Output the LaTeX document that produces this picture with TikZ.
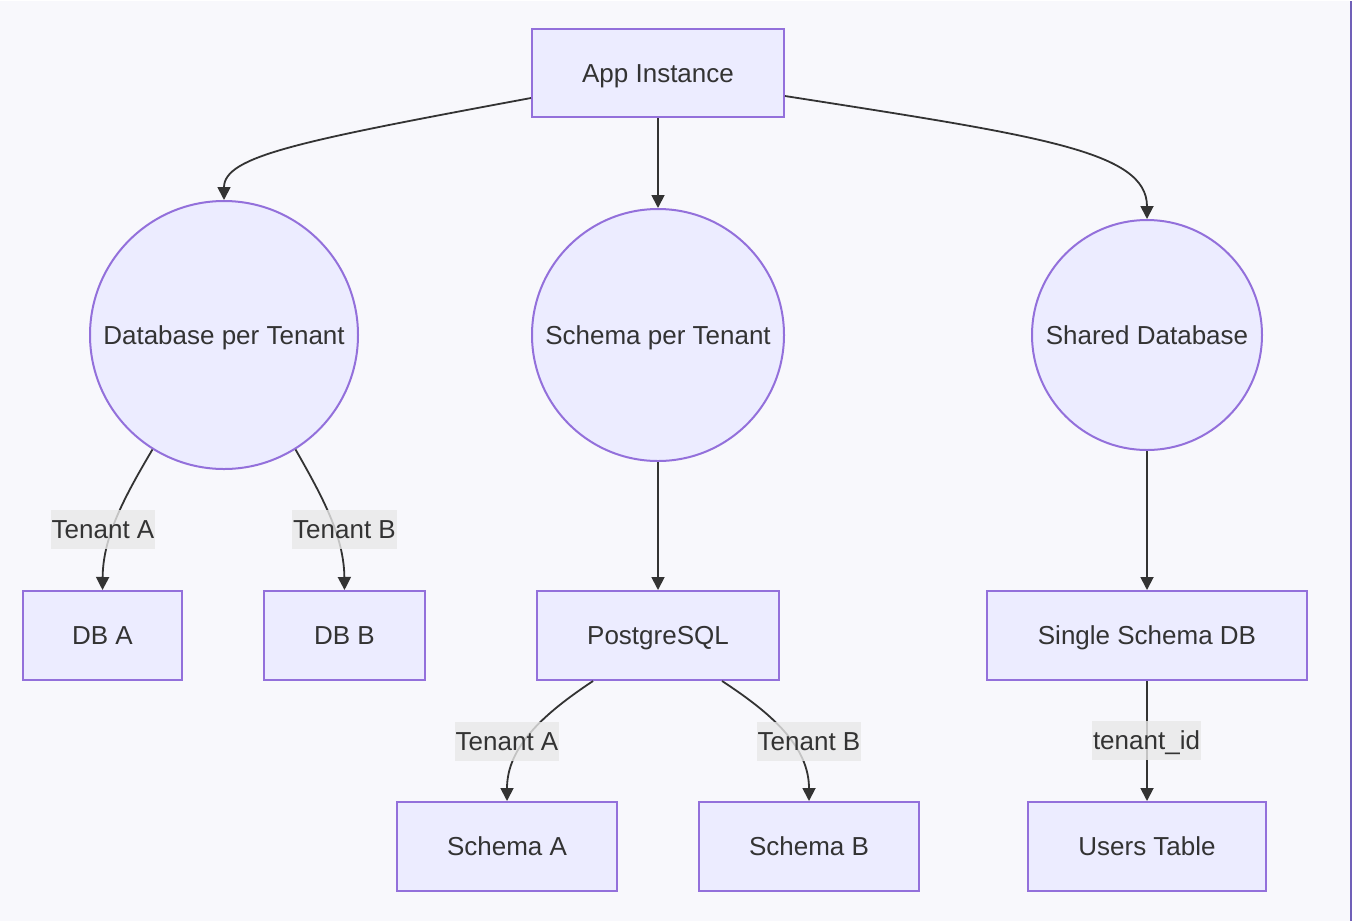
\documentclass[tikz,border=0pt]{standalone}
\usepackage{fontspec}
\setmainfont{Liberation Sans}
\usetikzlibrary{arrows.meta}

\definecolor{bgcol}{HTML}{F8F8FC}
\definecolor{nodefill}{HTML}{ECECFF}
\definecolor{nodeline}{HTML}{9370DB}
\definecolor{edgecol}{HTML}{333333}
\definecolor{labelbg}{HTML}{E8E8E8}
\definecolor{sideline}{HTML}{7060B8}

\tikzset{
  box/.style={draw=nodeline, fill=nodefill, line width=2, minimum height=89, text=edgecol, text height=18.6pt, text depth=0pt},
  round/.style={circle, draw=nodeline, fill=nodefill, line width=2, inner sep=0, text=edgecol, text height=18.6pt, text depth=0pt},
  lbl/.style={fill=labelbg, fill opacity=0.8, text opacity=1, text=edgecol, inner xsep=1, inner ysep=0, minimum height=39, text height=18.6pt, text depth=0pt},
  flow/.style={draw=edgecol, line width=1.8, -{Triangle[length=13pt,width=13pt]}}
}

\begin{document}
\begin{tikzpicture}[x=1pt, y=1pt, font=\fontsize{26}{31}\selectfont]

        % background and right border
        \fill[bgcol] (0,0) rectangle (1352,-920);
        \draw[sideline, line width=2] (1351,0) -- (1351,-920);

        \begin{scope}[every node/.style={box}]
          \node[minimum width=252, minimum height=88] (app) at (658,-72) {App Instance};
          \node[minimum width=159] (dba)   at (102.5,-634.5) {DB A};
          \node[minimum width=161] (dbb)   at (344.5,-634.5) {DB B};
          \node[minimum width=242] (pg)    at (658,-634.5)   {PostgreSQL};
          \node[minimum width=320] (ssdb)  at (1147,-634.5)  {Single Schema DB};
          \node[minimum width=220] (sca)   at (507,-845.5)   {Schema A};
          \node[minimum width=220] (scb)   at (809,-845.5)   {Schema B};
          \node[minimum width=238] (users) at (1147,-845.5)  {Users Table};
        \end{scope}

        \begin{scope}[every node/.style={round}]
          \node[minimum size=268] (dbt) at (224,-334)  {Database per Tenant};
          \node[minimum size=252] (spt) at (658,-334)  {Schema per Tenant};
          \node[minimum size=230] (shd) at (1147,-334) {Shared Database};
        \end{scope}

        \path[flow] ([yshift=-25]app.west) .. controls (300,-140) and (224,-155) .. (dbt.north);
        \path[flow] (app) -- (spt);
        \path[flow] ([yshift=-23]app.east) .. controls (1040,-135) and (1147,-150) .. (shd.north);
        \path[flow] (dbt.238) .. controls (125,-495) and (103,-535) .. (dba.north);
        \path[flow] (dbt.302) .. controls (322,-495) and (344,-535) .. (dbb.north);
        \path[flow] (spt) -- (pg);
        \path[flow] (shd) -- (ssdb);
        \path[flow] ([xshift=-65]pg.south) .. controls (545,-712) and (507,-745) .. (sca.north);
        \path[flow] ([xshift=64]pg.south) .. controls (771,-712) and (809,-745) .. (scb.north);
        \path[flow] (ssdb) -- (users);

        \begin{scope}[every node/.style={lbl}]
          \node (la)  at (103,-528.5)    {Tenant A};
          \node (lb)  at (344.5,-528.5)  {Tenant B};
          \node (lsa) at (507,-740.5)    {Tenant A};
          \node (lsb) at (809,-740.5)    {Tenant B};
          \node (lid) at (1146.5,-739.5) {tenant\_id};
        \end{scope}

      \end{tikzpicture}
\end{document}
